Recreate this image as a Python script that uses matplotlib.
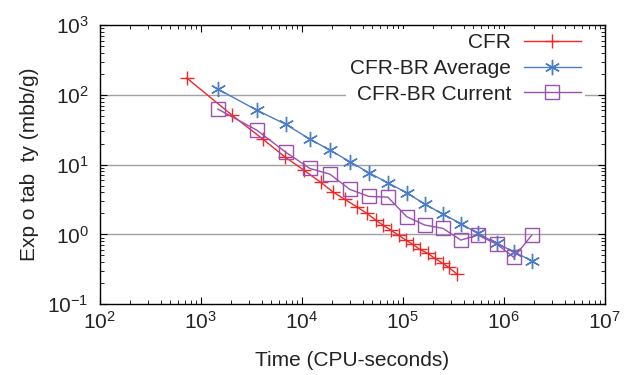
import matplotlib.pyplot as plt
import numpy as np

plt.rcParams['font.family'] = ['Liberation Sans', 'DejaVu Sans']

# CFR
cfr_t = [727, 2030, 4110, 6790, 10470, 15400, 20270, 26660, 35060, 44050, 54080,
         63440, 76100, 91300, 107000, 125700, 147300, 177000, 207600, 249000, 285400, 343000]
cfr_e = [174, 51.3, 23.2, 12.9, 8.34, 5.56, 4.07, 3.17, 2.48, 2.0, 1.60,
         1.36, 1.15, 0.966, 0.828, 0.718, 0.608, 0.533, 0.452, 0.383, 0.336, 0.27]

# CFR-BR (average and current share the same time points)
br_t = [1473, 3580, 6950, 12000, 18900, 29900, 46000, 71000, 109600, 165000,
        249000, 375000, 553000, 853000, 1256000, 1890000]
br_avg = [121, 60.4, 37.7, 23.2, 16.2, 11.0, 7.67, 5.48, 3.94, 2.71,
          1.95, 1.43, 1.03, 0.742, 0.562, 0.418]
br_cur = [62.5, 31.2, 15.0, 8.82, 7.31, 4.41, 3.50, 3.42, 1.79, 1.36,
          1.22, 0.828, 0.975, 0.724, 0.468, 0.975]

fig = plt.figure(figsize=(6.32, 3.75), dpi=100)
ax = fig.add_axes([0.158, 0.189, 0.799, 0.744])

ax.plot(cfr_t, cfr_e, color='#f02828', marker='+', markersize=10, mew=1.0, lw=1.0, label='CFR')
ax.plot(br_t, br_avg, color='#4a7cc8', marker=(6, 2, 0), markersize=11, mew=1.0, lw=1.0,
        label='CFR-BR Average')
ax.plot(br_t, br_cur, color='#9a50b0', marker='s', markersize=10, mfc='none', mew=1.0, lw=1.0,
        label='CFR-BR Current')

ax.set_xscale('log')
ax.set_yscale('log')
ax.set_xlim(1e2, 1e7)
ax.set_ylim(1e-1, 1e3)
ax.set_yticks([1e-1, 1e0, 1e1, 1e2, 1e3])
ax.set_xticks([1e2, 1e3, 1e4, 1e5, 1e6, 1e7])

for y in [1e0, 1e1, 1e2]:
    ax.axhline(y, color='#a0a0a0', lw=1.0, zorder=0)

ax.tick_params(which='both', direction='in', top=True, right=True, labelsize=15,
               labelcolor='#222222')
ax.tick_params(which='major', length=5, width=0.8)
ax.tick_params(which='minor', length=3, width=0.6)
ax.tick_params(axis='x', pad=5)
ax.tick_params(axis='y', pad=8)
for s in ax.spines.values():
    s.set_linewidth(1.0)

ax.set_xlabel('Time (CPU-seconds)', fontsize=15, color='#222222', labelpad=13)
ax.set_ylabel('Exp o tab  ty (mbb/g)', fontsize=15, color='#222222', labelpad=6)

leg = ax.legend(loc='upper right', bbox_to_anchor=(0.961, 0.987), borderaxespad=0,
                frameon=True, markerfirst=False, fontsize=15, handlelength=2.75,
                labelspacing=0.33, borderpad=0.2, handletextpad=0.6)
leg.get_frame().set_edgecolor('none')
leg.get_frame().set_facecolor('white')
leg.get_frame().set_alpha(1.0)
for t in leg.get_texts():
    t.set_ha('right')
    t.set_color('#222222')
leg._legend_box.align = 'right'

fig.savefig('out.png', dpi=100)
